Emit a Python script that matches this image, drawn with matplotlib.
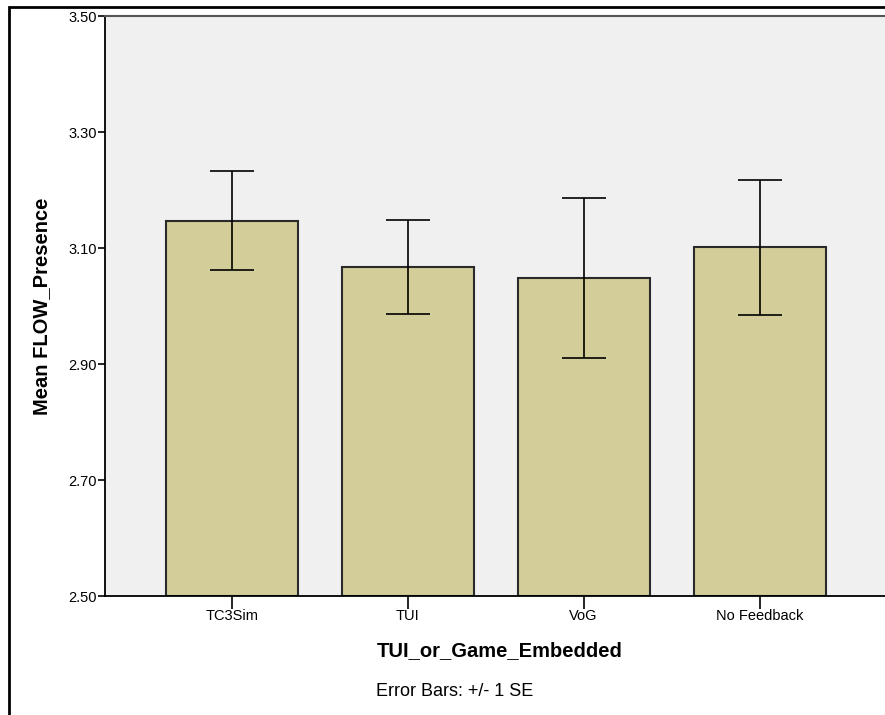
import numpy as np
import matplotlib
matplotlib.use('Agg')
import matplotlib.pyplot as plt
from matplotlib.patches import Rectangle

# data
groups = ['TC3Sim', 'TUI', 'VoG', 'No Feedback']
means = [3.147, 3.068, 3.048, 3.102]
err_hi = [3.233, 3.148, 3.186, 3.217]
err_lo = [3.062, 2.987, 2.911, 2.984]
yticks = [2.50, 2.70, 2.90, 3.10, 3.30, 3.50]

plt.rcParams['font.family'] = ['Liberation Sans', 'DejaVu Sans']

fig = plt.figure(figsize=(8.85, 7.15), dpi=100)
ax = fig.add_axes([105/885, 1-596/715, 1-105/885 + 0.01, (596-16)/715])
ax.set_facecolor('#f0f0f0')

x = np.arange(len(groups))
means = np.array(means)
yerr = np.array([means - np.array(err_lo), np.array(err_hi) - means])

ax.bar(x, means - 2.5, bottom=2.5, width=0.75, color='#d3ce99',
       edgecolor='#2a2a2a', linewidth=1.5, zorder=2)
ax.errorbar(x, means, yerr=yerr, fmt='none', ecolor='black',
            elinewidth=1.2, capsize=15.8, capthick=1.2, zorder=3)

ax.set_ylim(2.5, 3.5)
ax.set_xlim(-0.72, 3.713 + 0.05)
ax.set_yticks(yticks)
ax.set_yticklabels(['%.2f' % t for t in yticks], fontsize=10.5)
ax.set_xticks(x)
ax.set_xticklabels(groups, fontsize=10.5)
ax.tick_params(axis='y', length=5, width=1.2, pad=1)
ax.tick_params(axis='x', length=9, width=1.2, pad=0.5)

ax.spines['right'].set_visible(False)
ax.spines['top'].set_color('#555555')
ax.spines['top'].set_linewidth(1.5)
ax.spines['left'].set_linewidth(1.3)
ax.spines['bottom'].set_linewidth(1.3)

ax.set_ylabel('Mean FLOW_Presence', fontsize=14.5, fontweight='bold', labelpad=12)
ax.set_xlabel('TUI_or_Game_Embedded', fontsize=14.5, fontweight='bold', labelpad=13)

fig.text(455/885, 1-692/715, 'Error Bars: +/- 1 SE', fontsize=13,
         ha='center', va='center')

# outer frame around the whole chart
fig.patches.append(Rectangle((9/885, -0.05), 1.0, 1-7/715 + 0.05,
                             transform=fig.transFigure, fill=False,
                             edgecolor='black', linewidth=2))

fig.savefig('out.png', dpi=100)
